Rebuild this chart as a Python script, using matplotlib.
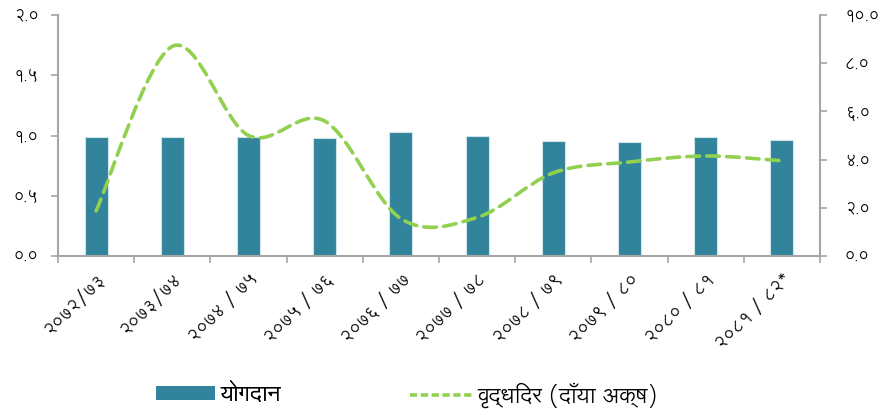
import matplotlib
matplotlib.use('Agg')
import matplotlib.pyplot as plt
import numpy as np
from matplotlib.path import Path
from matplotlib.patches import PathPatch, Patch
from matplotlib.lines import Line2D
from matplotlib.ticker import FixedLocator, FuncFormatter

plt.rcParams['font.family'] = ['Lohit Devanagari', 'Noto Sans Devanagari', 'DejaVu Sans']

# data
years = ['२०७२/७३', '२०७३/७४', '२०७४ / ७५', '२०७५ / ७६', '२०७६ / ७७',
         '२०७७ / ७८', '२०७८ / ७९', '२०७९ / ८०', '२०८० / ८१', '२०८१ / ८२*']
contribution = [0.99, 0.99, 0.985, 0.977, 1.027, 0.996, 0.957, 0.95, 0.99, 0.965]
growth = [1.87, 8.7, 5.0, 5.6, 1.55, 1.6, 3.45, 3.9, 4.15, 3.95]
bar_label = 'योगदान'
line_label = 'वृद्धिदर (दाँया अक्ष)'

bar_color = '#31849b'
line_color = '#92d050'
axis_grey = '#a6a6a6'

deva = str.maketrans('0123456789', '०१२३४५६७८९')
def to_deva(v, pos=None):
    return ('%.1f' % v).translate(deva)

fig = plt.figure(figsize=(8.92, 4.19), dpi=100)
ax = fig.add_axes([58/892, 1-256/419, 762/892, 241/419])
ax2 = ax.twinx()

x = np.arange(len(years))
ax.bar(x, contribution, width=0.3, color=bar_color, edgecolor='#cfe3ea', linewidth=0.8, zorder=2)
ax.set_xlim(-0.5, len(years) - 0.5)
ax.set_ylim(0, 2.0)
ax.set_yticks([0, 0.5, 1.0, 1.5, 2.0])
ax.yaxis.set_major_formatter(FuncFormatter(to_deva))

# smoothed line (catmull-rom, like excel smoothing)
pts = np.column_stack([x, growth]).astype(float)
verts = [pts[0]]
codes = [Path.MOVETO]
n = len(pts)
for i in range(n - 1):
    p0 = pts[max(i - 1, 0)]
    p1 = pts[i]
    p2 = pts[i + 1]
    p3 = pts[min(i + 2, n - 1)]
    verts += [p1 + (p2 - p0) / 6, p2 - (p3 - p1) / 6, p2]
    codes += [Path.CURVE4] * 3
ax2.add_patch(PathPatch(Path(verts, codes), fill=False, edgecolor=line_color,
                        linewidth=2.6, linestyle=(0, (3.5, 2)), capstyle='round', zorder=3))
ax2.set_ylim(0, 10)
ax2.set_yticks([0, 2, 4, 6, 8, 10])
ax2.yaxis.set_major_formatter(FuncFormatter(to_deva))

# x axis: tick marks at category edges, labels at centers
ax.xaxis.set_major_locator(FixedLocator(x))
ax.set_xticklabels(years, rotation=45, ha='right', rotation_mode='anchor', fontsize=12.5)
ax.xaxis.set_minor_locator(FixedLocator(np.arange(-0.5, len(years), 1.0)))
ax.tick_params(axis='x', which='major', length=0, pad=10)
ax.tick_params(axis='x', which='minor', length=5, width=1.2, color=axis_grey)

for a in (ax, ax2):
    a.spines['top'].set_visible(False)
    for s in ('left', 'right', 'bottom'):
        a.spines[s].set_color(axis_grey)
        a.spines[s].set_linewidth(1.5)
    a.tick_params(axis='y', length=5, width=1.2, color=axis_grey, labelsize=11.5)
ax.tick_params(axis='y', pad=9)
ax2.tick_params(axis='y', pad=13)
ax.spines['right'].set_visible(False)
ax2.spines['left'].set_visible(False)
ax2.spines['bottom'].set_visible(False)

leg_kw = dict(loc='center left', frameon=False, fontsize=16, borderpad=0, borderaxespad=0,
              handletextpad=0.22)
leg1 = fig.legend([Patch(facecolor=bar_color, edgecolor='none')], [bar_label],
                  bbox_to_anchor=(156/892, 24/419), handlelength=2.65, handleheight=0.63, **leg_kw)
fig.legend([Line2D([0], [0], color=line_color, linewidth=2.6, linestyle=(0, (2, 1)))], [line_label],
           bbox_to_anchor=(410/892, 24/419), handlelength=2.8, **leg_kw)
fig.add_artist(leg1)

fig.savefig('out.png')
